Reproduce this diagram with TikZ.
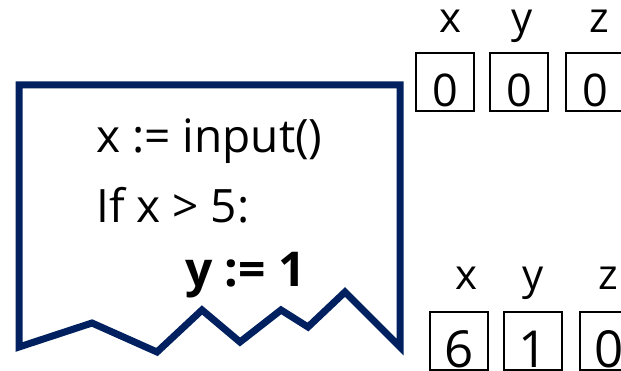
\documentclass[tikz,border=0pt]{standalone}
\usepackage{fontspec}
\setmainfont{Open Sans}
\definecolor{navy}{HTML}{002060}
\begin{document}
\begin{tikzpicture}[x=1pt,y=-1pt,
  code/.style={anchor=base west,inner sep=0pt,font=\fontsize{46}{50}\selectfont},
  lbl/.style={anchor=base,inner sep=0pt,font=\fontsize{42}{46}\selectfont},
  cell/.style={draw=black,line width=1.3pt,minimum width=58pt,minimum height=58pt,inner sep=0pt,text height=54pt,text depth=4pt,font=\fontsize{45}{50}\selectfont},
  cellb/.style={cell,text height=55pt,text depth=3pt,font=\fontsize{51}{56}\selectfont}]
\useasboundingbox (0,0) rectangle (621,371);
\clip (0,0) rectangle (621,371);
\draw[navy,line width=7pt,line join=miter,miter limit=10]
  (19,85) -- (400,85) -- (400,347) -- (345,292) -- (308,327) -- (281,310)
  -- (240,342) -- (202,310) -- (157,352) -- (92,323) -- (19,347) -- cycle;
\node[code] (l1) at (96,153) {x := input()};
\node[code] (l2) at (96,223) {If x > 5:};
\node[code,font=\fontsize{48}{52}\selectfont\bfseries] (l3) at (185,287) {y := 1};
% top state
\node[lbl] (tx) at (450,33) {x};
\node[lbl] (ty) at (522,33) {y};
\node[lbl] (tz) at (599,33) {z};
\node[cell] (bx) at (445,82) {0};
\node[cell] (by) at (519,82) {0};
\node[cell] (bz) at (595,82) {0};
% bottom state
\node[lbl] (sx) at (466,290) {x};
\node[lbl] (sy) at (533,290) {y};
\node[lbl] (sz) at (608,290) {z};
\node[cellb] (cx) at (459,341) {6};
\node[cellb] (cy) at (533,341) {1};
\node[cellb] (cz) at (609,341) {0};
\end{tikzpicture}
\end{document}
